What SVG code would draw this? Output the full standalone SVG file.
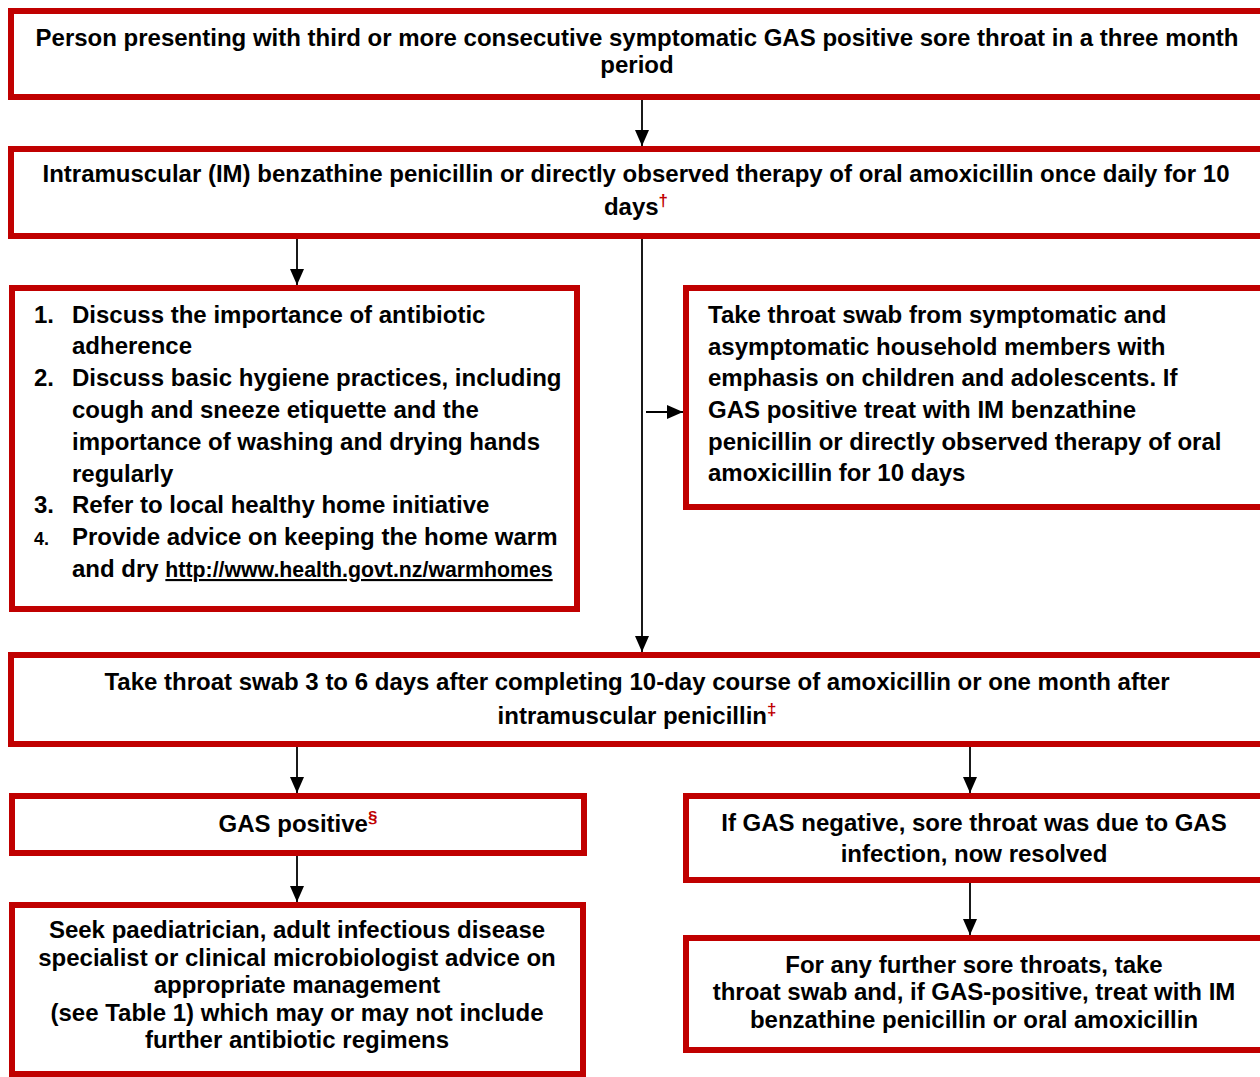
<svg xmlns="http://www.w3.org/2000/svg" width="1260" height="1077" viewBox="0 0 1260 1077">
<style>
.box{fill:#fff;stroke:#C00000;stroke-width:6}
text{font-family:"Liberation Sans",Arial,sans-serif;font-weight:bold;font-size:24px;fill:#000}
.c{text-anchor:middle}
.sup{fill:#C00000;font-size:17px}
.conn{stroke:#000;stroke-width:1.8;fill:none}
.url{font-size:21.3px;text-decoration:underline}
</style>
<defs>
<marker id="ah" markerUnits="userSpaceOnUse" markerWidth="16" markerHeight="14" refX="16" refY="7" orient="auto">
<path d="M0,0 L16,7 L0,14 z" fill="#000"/>
</marker>
</defs>
<rect width="1260" height="1077" fill="#fff"/>
<g id="connectors">
<line class="conn" x1="642" y1="100" x2="642" y2="146" marker-end="url(#ah)"/>
<line class="conn" x1="297" y1="239" x2="297" y2="285" marker-end="url(#ah)"/>
<line class="conn" x1="642" y1="239" x2="642" y2="652" marker-end="url(#ah)"/>
<line class="conn" x1="646" y1="412" x2="683" y2="412" marker-end="url(#ah)"/>
<line class="conn" x1="297" y1="747" x2="297" y2="793" marker-end="url(#ah)"/>
<line class="conn" x1="970" y1="747" x2="970" y2="793" marker-end="url(#ah)"/>
<line class="conn" x1="297" y1="856" x2="297" y2="902" marker-end="url(#ah)"/>
<line class="conn" x1="970" y1="883" x2="970" y2="935" marker-end="url(#ah)"/>
</g>
<g id="n1">
<rect class="box" x="11" y="11" width="1260" height="86"/>
<text class="c" x="637" y="46">Person presenting with third or more consecutive symptomatic GAS positive sore throat in a three month</text>
<text class="c" x="637" y="73">period</text>
</g>
<g id="n2">
<rect class="box" x="11" y="149" width="1260" height="87"/>
<text class="c" x="636" y="182">Intramuscular (IM) benzathine penicillin or directly observed therapy of oral amoxicillin once daily for 10</text>
<text class="c" x="636" y="215">days<tspan class="sup" dy="-9">†</tspan></text>
</g>
<g id="n3">
<rect class="box" x="12" y="288" width="565" height="321"/>
<text x="34" y="323">1.</text><text x="72" y="323">Discuss the importance of antibiotic</text>
<text x="72" y="354">adherence</text>
<text x="34" y="386">2.</text><text x="72" y="386">Discuss basic hygiene practices, including</text>
<text x="72" y="418">cough and sneeze etiquette and the</text>
<text x="72" y="450">importance of washing and drying hands</text>
<text x="72" y="482">regularly</text>
<text x="34" y="513">3.</text><text x="72" y="513">Refer to local healthy home initiative</text>
<text x="34" y="545" style="font-size:18px">4.</text><text x="72" y="545">Provide advice on keeping the home warm</text>
<text x="72" y="577">and dry <tspan class="url">http://www.health.govt.nz/warmhomes</tspan></text>
</g>
<g id="n4">
<rect class="box" x="686" y="288" width="590" height="219"/>
<text x="708" y="323">Take throat swab from symptomatic and</text>
<text x="708" y="354.5">asymptomatic household members with</text>
<text x="708" y="386">emphasis on children and adolescents. If</text>
<text x="708" y="418">GAS positive treat with IM benzathine</text>
<text x="708" y="449.5">penicillin or directly observed therapy of oral</text>
<text x="708" y="481">amoxicillin for 10 days</text>
</g>
<g id="n5">
<rect class="box" x="11" y="655" width="1260" height="89"/>
<text class="c" x="637" y="690">Take throat swab 3 to 6 days after completing 10-day course of amoxicillin or one month after</text>
<text class="c" x="637" y="724">intramuscular penicillin<tspan class="sup" dy="-9">‡</tspan></text>
</g>
<g id="n6">
<rect class="box" x="12" y="796" width="572" height="57"/>
<text class="c" x="298" y="832">GAS positive<tspan class="sup" dy="-9">§</tspan></text>
</g>
<g id="n7">
<rect class="box" x="686" y="796" width="590" height="84"/>
<text class="c" x="974" y="831">If GAS negative, sore throat was due to GAS</text>
<text class="c" x="974" y="862">infection, now resolved</text>
</g>
<g id="n8">
<rect class="box" x="12" y="905" width="571" height="169"/>
<text class="c" x="297" y="938">Seek paediatrician, adult infectious disease</text>
<text class="c" x="297" y="966">specialist or clinical microbiologist advice on</text>
<text class="c" x="297" y="993">appropriate management</text>
<text class="c" x="297" y="1021">(see Table 1) which may or may not include</text>
<text class="c" x="297" y="1048">further antibiotic regimens</text>
</g>
<g id="n9">
<rect class="box" x="686" y="938" width="590" height="112"/>
<text class="c" x="974" y="973">For any further sore throats, take</text>
<text class="c" x="974" y="1000">throat swab and, if GAS-positive, treat with IM</text>
<text class="c" x="974" y="1028">benzathine penicillin or oral amoxicillin</text>
</g>
</svg>
